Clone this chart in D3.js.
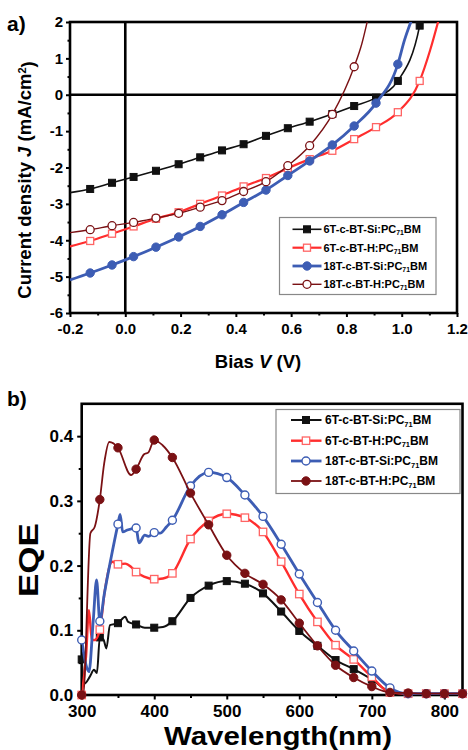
<!DOCTYPE html>
<html>
<head>
<meta charset="utf-8">
<title>J-V and EQE</title>
<style>
  body { margin: 0; background: #fff; }
  svg { display: block; font-family: "Liberation Sans", Arial, sans-serif; font-weight: bold; }
</style>
</head>
<body>
<svg id="chart" width="468" height="750"></svg>
<script src="https://d3js.org/d3.v7.min.js"></script>
<script>

// ---------- panel a : J-V curves ----------
var biasMarks = [-0.127, -0.048, 0.030, 0.111, 0.193, 0.271, 0.350, 0.428, 0.509, 0.588, 0.667, 0.749, 0.828, 0.907, 0.986, 1.065];
var jBlack = [-2.59, -2.42, -2.26, -2.09, -1.91, -1.72, -1.53, -1.36, -1.13, -0.92, -0.74, -0.53, -0.31, -0.08, 0.38, 1.90];
var jRed   = [-4.02, -3.82, -3.62, -3.41, -3.23, -3.00, -2.77, -2.52, -2.29, -2.02, -1.77, -1.54, -1.22, -0.89, -0.48, 0.38];
var jBlue  = [-4.90, -4.68, -4.45, -4.19, -3.91, -3.62, -3.30, -2.96, -2.62, -2.22, -1.82, -1.38, -0.86, -0.23, 0.84];
var jBrown = [-3.71, -3.60, -3.51, -3.39, -3.26, -3.09, -2.91, -2.66, -2.39, -1.95, -1.40, -0.54, 0.77];
// line points without a marker (curve ends)
var jBlackEnds = [[-0.2, -2.69], [1.075, 2.3]];
var jRedEnds   = [[-0.2, -4.17], [1.103, 1.23], [1.135, 2.1]];
var jBlueEnds  = [[-0.2, -5.09], [1.010, 1.5], [1.038, 2.1]];
var jBrownEnds = [[-0.2, -3.79], [0.856, 1.41], [0.878, 2.1]];
var biasTicks = [-0.2, 0.0, 0.2, 0.4, 0.6, 0.8, 1.0, 1.2];
var jTicks = [-6, -5, -4, -3, -2, -1, 0, 1, 2];

// ---------- panel b : EQE ----------
var wlMarks = [300, 325, 350, 375, 400, 425, 450, 475, 500, 525, 550, 575, 600, 625, 650, 675, 700, 725, 750, 775, 800, 825];
var eqeBlack = [0.055, 0.089, 0.111, 0.109, 0.104, 0.114, 0.150, 0.169, 0.176, 0.172, 0.157, 0.129, 0.099, 0.076, 0.054, 0.040, 0.024, 0.005, 0.002, 0.002, 0.002, 0.002];
var eqeRed   = [0.000, 0.101, 0.202, 0.190, 0.179, 0.188, 0.241, 0.269, 0.280, 0.274, 0.252, 0.206, 0.156, 0.113, 0.077, 0.055, 0.028, 0.004, 0.002, 0.002, 0.002, 0.002];
var eqeBlue  = [0.085, 0.114, 0.264, 0.258, 0.251, 0.270, 0.323, 0.344, 0.336, 0.309, 0.276, 0.233, 0.187, 0.143, 0.100, 0.068, 0.037, 0.011, 0.002, 0.002, 0.002, 0.002];
var eqeBrown = [0.000, 0.302, 0.382, 0.349, 0.394, 0.367, 0.312, 0.263, 0.216, 0.188, 0.171, 0.147, 0.111, 0.076, 0.046, 0.027, 0.013, 0.004, 0.003, 0.002, 0.002, 0.002];
// extra line points between markers (noisy short-wavelength part)
var eqeBlackLine = [[304, 0.018], [311, 0.028], [317, 0.039], [321, 0.034], [330, 0.086], [334, 0.072], [339, 0.108], [360, 0.121], [364, 0.113], [387, 0.104], [412, 0.105]];
var eqeRedLine   = [[306, 0.06], [310, 0.131], [314, 0.085], [318, 0.085], [332, 0.162], [342, 0.206], [360, 0.203], [368, 0.198], [386, 0.183], [412, 0.180]];
var eqeBlueLine  = [[306, 0.046], [310, 0.036], [316, 0.116], [320.5, 0.178], [331, 0.155], [340, 0.209], [353, 0.279], [356.5, 0.252], [363, 0.255], [379, 0.235], [387, 0.247], [392, 0.245], [408, 0.25], [417, 0.26]];
var eqeBrownLine = [[302, 0.0], [312, 0.25], [318, 0.26], [331, 0.358], [338, 0.391], [368, 0.34], [386, 0.372], [392, 0.375], [411.5, 0.386]];
var wlTicks = [300, 400, 500, 600, 700, 800];
var eqeTicks = [0.0, 0.1, 0.2, 0.3, 0.4];

var names = ['6T-c-BT-Si', '6T-c-BT-H', '18T-c-BT-Si', '18T-c-BT-H'];
var black = '#111', red = '#ff2d2d', redMark = '#ff6464', blue = '#3d5db4', brown = '#7a1114';

var svg = d3.select('#chart');

function zip(xs, ys) {
	return ys.map(function(y, i) { return [xs[i], y]; });
}

function axis(g, gen, scale, values, size, fmt, fontSize, pad) {
	var a = gen(scale).tickValues(values).tickSize(size).tickPadding(pad)
		.tickFormat(fmt || function() { return ''; });
	g.call(a);
	g.select('.domain').remove();
	g.selectAll('.tick line').attr('stroke', '#000').attr('stroke-width', 2);
	g.selectAll('.tick text').attr('fill', '#000')
		.style('font-size', fontSize + 'px').style('font-weight', 'bold')
		.style('font-family', '"Liberation Sans", Arial, sans-serif');
}

function marker(g, d, s, sx, sy) {
	var x = sx(d[0]), y = sy(d[1]);
	if (s.shape == 'square') {
		g.append('rect').attr('x', x - s.size / 2).attr('y', y - s.size / 2)
			.attr('width', s.size).attr('height', s.size)
			.attr('fill', s.fill).attr('stroke', s.stroke).attr('stroke-width', s.sw);
	} else {
		g.append('circle').attr('cx', x).attr('cy', y).attr('r', s.size / 2)
			.attr('fill', s.fill).attr('stroke', s.stroke).attr('stroke-width', s.sw);
	}
}

function legend(g, box, rows, series, lineX, markX, textX, fontSize) {
	g.append('rect').attr('x', box[0]).attr('y', box[1]).attr('width', box[2]).attr('height', box[3])
		.attr('fill', '#fff').attr('stroke', '#888').attr('stroke-width', 1.2);
	series.forEach(function(s, i) {
		var y = rows[i];
		g.append('line').attr('x1', lineX[0]).attr('x2', lineX[1]).attr('y1', y).attr('y2', y)
			.attr('stroke', s.color).attr('stroke-width', s.lw);
		marker(g, [markX, y], s, function(v) { return v; }, function(v) { return v; });
		var t = g.append('text').attr('x', textX).attr('y', y).attr('dy', '0.36em')
			.style('font-size', fontSize + 'px');
		t.append('tspan').text(s.name + ':PC');
		t.append('tspan').attr('dy', '0.32em').style('font-size', (fontSize * 0.62) + 'px').text('71');
		t.append('tspan').attr('dy', '-0.2em').text('BM');
	});
}

// ===== panel a =====
var ax = d3.scaleLinear().domain([-0.2, 1.2]).range([70, 457]);
var ay = d3.scaleLinear().domain([-6, 2]).range([313, 22]);

var jvSeries = [
	{ name: names[0], marks: zip(biasMarks, jBlack), ends: jBlackEnds, color: black, lw: 1.6, shape: 'square', size: 7, fill: black, stroke: black, sw: 1 },
	{ name: names[1], marks: zip(biasMarks, jRed), ends: jRedEnds, color: red, lw: 2.2, shape: 'square', size: 7, fill: '#fff', stroke: redMark, sw: 1.3 },
	{ name: names[2], marks: zip(biasMarks, jBlue), ends: jBlueEnds, color: blue, lw: 2.8, shape: 'circle', size: 8.4, fill: blue, stroke: blue, sw: 1 },
	{ name: names[3], marks: zip(biasMarks, jBrown), ends: jBrownEnds, color: brown, lw: 1.4, shape: 'circle', size: 8, fill: '#fff', stroke: brown, sw: 1.3 }
];

var ga = svg.append('g');
ga.append('clipPath').attr('id', 'clipA').append('rect')
	.attr('x', 70).attr('y', 22).attr('width', 387).attr('height', 291);

axis(ga.append('g').attr('transform', 'translate(70,0)'), d3.axisLeft, ay, jTicks, 4, function(d) { return String(d); }, 15, 3);
axis(ga.append('g').attr('transform', 'translate(70,0)'), d3.axisLeft, ay, d3.range(-5.5, 2, 1), 2.5, null, 15, 3);
axis(ga.append('g').attr('transform', 'translate(0,313)'), d3.axisBottom, ax, biasTicks, 4, function(d) { return d.toFixed(1); }, 15, 6);
axis(ga.append('g').attr('transform', 'translate(0,313)'), d3.axisBottom, ax, d3.range(-0.1, 1.2, 0.2), 2.5, null, 15, 6);

ga.append('rect').attr('x', 70).attr('y', 22).attr('width', 387).attr('height', 291)
	.attr('fill', 'none').attr('stroke', '#000').attr('stroke-width', 2.6);
ga.append('line').attr('x1', ax(0)).attr('x2', ax(0)).attr('y1', 22).attr('y2', 313)
	.attr('stroke', '#000').attr('stroke-width', 2.6);
ga.append('line').attr('x1', 70).attr('x2', 457).attr('y1', ay(0)).attr('y2', ay(0))
	.attr('stroke', '#000').attr('stroke-width', 2.6);

var lineA = d3.line().x(function(d) { return ax(d[0]); }).y(function(d) { return ay(d[1]); }).curve(d3.curveMonotoneX);
jvSeries.forEach(function(s) {
	var pts = s.marks.concat(s.ends).sort(function(a, b) { return a[0] - b[0]; });
	ga.append('path').attr('d', lineA(pts)).attr('fill', 'none')
		.attr('stroke', s.color).attr('stroke-width', s.lw).attr('clip-path', 'url(#clipA)');
	var mg = ga.append('g');
	s.marks.forEach(function(d) { marker(mg, d, s, ax, ay); });
});

legend(ga, [279.5, 217.5, 156.5, 77], [229.3, 247.7, 266, 284.3], jvSeries, [292.5, 321.5], 307, 323.5, 11);

ga.append('text').attr('x', 7).attr('y', 31).style('font-size', '21px').text('a)');
var ta = ga.append('text').attr('transform', 'translate(31,180) rotate(-90)')
	.attr('text-anchor', 'middle').style('font-size', '18.5px');
ta.append('tspan').text('Current density ');
ta.append('tspan').style('font-style', 'italic').text('J');
ta.append('tspan').text(' (mA/cm');
ta.append('tspan').attr('dy', '-0.45em').style('font-size', '11px').text('2');
ta.append('tspan').attr('dy', '0.45em').text(')');
var tb = ga.append('text').attr('x', 258).attr('y', 368).attr('text-anchor', 'middle').style('font-size', '18.5px');
tb.append('tspan').text('Bias ');
tb.append('tspan').style('font-style', 'italic').text('V');
tb.append('tspan').text(' (V)');

// ===== panel b =====
var bx = d3.scaleLinear().domain([300, 825]).range([81.7, 462.5]);
var by = d3.scaleLinear().domain([0, 0.45]).range([695, 403.8]);

var eqeSeries = [
	{ name: names[0], marks: zip(wlMarks, eqeBlack), extra: eqeBlackLine, color: black, lw: 2, shape: 'square', size: 7, fill: black, stroke: black, sw: 1 },
	{ name: names[1], marks: zip(wlMarks, eqeRed), extra: eqeRedLine, color: red, lw: 2.4, shape: 'square', size: 7.4, fill: '#fff', stroke: redMark, sw: 1.3 },
	{ name: names[2], marks: zip(wlMarks, eqeBlue), extra: eqeBlueLine, color: blue, lw: 2.8, shape: 'circle', size: 8, fill: '#fff', stroke: blue, sw: 1.4 },
	{ name: names[3], marks: zip(wlMarks, eqeBrown), extra: eqeBrownLine, color: brown, lw: 1.8, shape: 'circle', size: 8.4, fill: brown, stroke: brown, sw: 1 }
];

var gb = svg.append('g');
gb.append('clipPath').attr('id', 'clipB').append('rect')
	.attr('x', 81.7).attr('y', 403.8).attr('width', 380.8).attr('height', 291.2);

axis(gb.append('g').attr('transform', 'translate(81.7,0)'), d3.axisLeft, by, eqeTicks, 4.5, function(d) { return d.toFixed(1); }, 17, 4);
axis(gb.append('g').attr('transform', 'translate(81.7,0)'), d3.axisLeft, by, [0.05, 0.15, 0.25, 0.35], 3, null, 17, 4);
axis(gb.append('g').attr('transform', 'translate(0,695)'), d3.axisBottom, bx, wlTicks, 4.5, function(d) { return String(d); }, 17, 5.5);
axis(gb.append('g').attr('transform', 'translate(0,695)'), d3.axisBottom, bx, [350, 450, 550, 650, 750], 3, null, 17, 5.5);

gb.append('rect').attr('x', 81.7).attr('y', 403.8).attr('width', 380.8).attr('height', 291.2)
	.attr('fill', 'none').attr('stroke', '#000').attr('stroke-width', 2.6);

var lineB = d3.line().x(function(d) { return bx(d[0]); }).y(function(d) { return by(d[1]); }).curve(d3.curveMonotoneX);
eqeSeries.forEach(function(s) {
	var pts = s.marks.concat(s.extra).sort(function(a, b) { return a[0] - b[0]; });
	gb.append('path').attr('d', lineB(pts)).attr('fill', 'none')
		.attr('stroke', s.color).attr('stroke-width', s.lw).attr('stroke-linejoin', 'round')
		.attr('clip-path', 'url(#clipB)');
	var mg = gb.append('g');
	s.marks.forEach(function(d) { marker(mg, d, s, bx, by); });
});

legend(gb, [276, 409.5, 184, 84], [420, 440.7, 461, 481], eqeSeries, [291, 321.5], 306, 325, 12);

gb.append('text').attr('x', 7).attr('y', 406).style('font-size', '21px').text('b)');
gb.append('text').attr('transform', 'translate(38,560) rotate(-90)').attr('text-anchor', 'middle')
	.attr('textLength', 74).attr('lengthAdjust', 'spacingAndGlyphs')
	.style('font-size', '27px').text('EQE');
gb.append('text').attr('x', 278).attr('y', 745).attr('text-anchor', 'middle')
	.attr('textLength', 228).attr('lengthAdjust', 'spacingAndGlyphs')
	.style('font-size', '26px').text('Wavelength(nm)');

</script>
</body>
</html>
